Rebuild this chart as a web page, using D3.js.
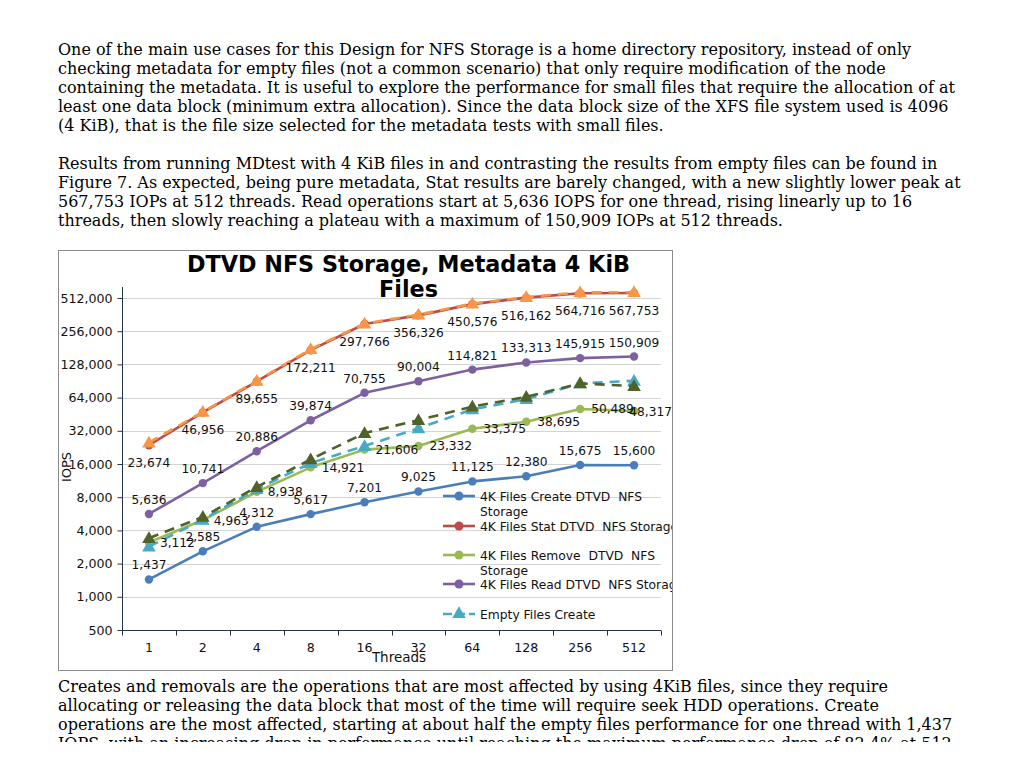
<!DOCTYPE html>
<html>
<head>
<meta charset="utf-8">
<script src="https://cdn.jsdelivr.net/npm/d3@7"></script>
<style>
  html, body { margin: 0; padding: 0; background: #fff; }
  body { width: 1024px; height: 768px; position: relative; overflow: hidden; }
  .txt { position: absolute; left: 58px; font-family: "DejaVu Serif", serif; font-size: 16px; line-height: 19px; color: #000; white-space: nowrap; }
  #p3wrap { position: absolute; left: 0; top: 676px; width: 1024px; height: 66px; overflow: hidden; }
  #chart { position: absolute; left: 0; top: 0; }
</style>
</head>
<body>
<div class="txt" style="top:40px">One of the main use cases for this Design for NFS Storage is a home directory repository, instead of only<br>checking metadata for empty files (not a common scenario) that only require modification of the node<br>containing the metadata. It is useful to explore the performance for small files that require the allocation of at<br>least one data block (minimum extra allocation). Since the data block size of the XFS file system used is 4096<br>(4 KiB), that is the file size selected for the metadata tests with small files.</div>
<div class="txt" style="top:154px">Results from running MDtest with 4 KiB files in and contrasting the results from empty files can be found in<br>Figure 7. As expected, being pure metadata, Stat results are barely changed, with a new slightly lower peak at<br>567,753 IOPs at 512 threads. Read operations start at 5,636 IOPS for one thread, rising linearly up to 16<br>threads, then slowly reaching a plateau with a maximum of 150,909 IOPs at 512 threads.</div>
<div id="p3wrap"><div class="txt" style="top:1px">Creates and removals are the operations that are most affected by using 4KiB files, since they require<br>allocating or releasing the data block that most of the time will require seek HDD operations. Create<br>operations are the most affected, starting at about half the empty files performance for one thread with 1,437<br>IOPS, with an increasing drop in performance until reaching the maximum performance drop of 82.4% at 512</div></div>
<svg id="chart" width="1024" height="768"></svg>
<script>
const categories = ["1","2","4","8","16","32","64","128","256","512"];
const yTicks = [500,1000,2000,4000,8000,16000,32000,64000,128000,256000,512000];

const createData = [1437,2585,4312,5617,7201,9025,11125,12380,15675,15600];
const statData   = [23674,46956,89655,172211,297766,356326,450576,516162,564716,567753];
const removeData = [3112,4963,8938,14921,21606,23332,33375,38695,50489,48317];
const readData   = [5636,10741,20886,39874,70755,90004,114821,133313,145915,150909];
const emptyCreateData = [2850,5000,9500,16300,23300,33700,50000,62000,86000,91000];
const emptyStatData   = [25000,47500,91000,176000,300000,362000,455000,522000,575000,578000];
const emptyRemoveData = [3400,5300,9900,17600,30500,40000,53000,65000,86000,81500];

const titleLines = ["DTVD NFS Storage, Metadata 4 KiB", "Files"];
const seriesNames = ["4K Files Create DTVD  NFS\nStorage", "4K Files Stat DTVD  NFS Storage", "4K Files Remove  DTVD  NFS\nStorage", "4K Files Read DTVD  NFS Storage", "Empty Files Create"];

const svg = d3.select("#chart");
const FONT = "DejaVu Sans, sans-serif";

// chart frame
svg.append("rect").attr("x",58.5).attr("y",250.5).attr("width",614).attr("height",420)
  .attr("fill","#fff").attr("stroke","#8c8c8c").attr("stroke-width",1);

svg.append("defs").append("clipPath").attr("id","frameClip")
  .append("rect").attr("x",59).attr("y",251).attr("width",613).attr("height",419);

const root = svg.append("g").attr("clip-path","url(#frameClip)");

const x = d3.scaleBand().domain(categories).range([122,661]);
const y = d3.scaleLog().base(2).domain([500,512000]).range([630,298]);
const cx = d => x(d) + x.bandwidth()/2;

// gridlines
root.append("g").selectAll("line").data(yTicks.slice(1)).join("line")
  .attr("x1",122).attr("x2",661).attr("y1",d=>Math.round(y(d))+0.5).attr("y2",d=>Math.round(y(d))+0.5)
  .attr("stroke","#d3d3d3").attr("stroke-width",1);

// y axis
const yAxis = d3.axisLeft(y).tickValues(yTicks).tickFormat(d3.format(",")).tickSize(5).tickPadding(5);
const gy = root.append("g").attr("transform","translate(122.5,0)").call(yAxis);
gy.select(".domain").remove();
gy.append("line").attr("x1",0).attr("x2",0).attr("y1",287).attr("y2",630).attr("stroke","#253346");
gy.selectAll(".tick line").attr("stroke","#253346");
gy.selectAll(".tick text").attr("font-family",FONT).attr("font-size",12.6).attr("fill","#111");

// x axis
const xAxis = d3.axisBottom(x).tickSize(0).tickPadding(13);
const gx = root.append("g").attr("transform","translate(0,630.5)").call(xAxis);
gx.select(".domain").attr("stroke","#253346").attr("d","M122,0H661");
gx.selectAll(".tick text").attr("font-family",FONT).attr("font-size",12.6).attr("fill","#111");
const bounds = categories.map(c => x(c)).concat([661]);
gx.append("g").selectAll("line").data(bounds).join("line")
  .attr("x1",d=>Math.round(d)+0.5).attr("x2",d=>Math.round(d)+0.5).attr("y1",0).attr("y2",5)
  .attr("stroke","#253346");

// axis titles
root.append("text").attr("transform","translate(71,467) rotate(-90)").attr("text-anchor","middle")
  .attr("font-family",FONT).attr("font-size",13).attr("fill","#111").text("IOPS");
root.append("text").attr("x",399).attr("y",662).attr("text-anchor","middle")
  .attr("font-family",FONT).attr("font-size",13.5).attr("fill","#111").text("Threads");

// title
root.append("g").selectAll("text").data(titleLines).join("text")
  .attr("x",408.5).attr("y",(d,i)=>272+i*25).attr("text-anchor","middle")
  .attr("font-family",FONT).attr("font-weight","bold").attr("font-size",22.3).attr("fill","#000").text(d=>d);

const line = d3.line().x((d,i)=>cx(categories[i])).y(d=>y(d));

const series = [
  {data:createData, color:"#4a7ebb", dash:null, marker:"circle", label:"above"},
  {data:statData,   color:"#be4b48", dash:null, marker:"circle", label:"below"},
  {data:removeData, color:"#98b954", dash:null, marker:"circle", label:"right"},
  {data:readData,   color:"#7d60a0", dash:null, marker:"circle", label:"above"},
  {data:emptyCreateData, color:"#46aac5", dash:"10,7", marker:"triangle", label:null},
  {data:emptyStatData,   color:"#f79646", dash:"10,7", marker:"triangle", label:null},
  {data:emptyRemoveData, color:"#4f6228", dash:"10,7", marker:"triangle", label:null}
];

const drawOrder = [0,3,2,1,4,6,5];
const tri = d3.symbol().type(d3.symbolTriangle).size(80);

drawOrder.forEach(k => {
  const s = series[k];
  const g = root.append("g");
  g.append("path").attr("d",line(s.data)).attr("fill","none").attr("stroke",s.color)
    .attr("stroke-width",2.6).attr("stroke-dasharray",s.dash).attr("stroke-linejoin","round");
  if (s.marker === "circle") {
    g.selectAll("circle").data(s.data).join("circle")
      .attr("cx",(d,i)=>cx(categories[i])).attr("cy",d=>y(d)).attr("r",4.2).attr("fill",s.color);
  } else {
    g.selectAll("path.m").data(s.data).join("path").attr("class","m")
      .attr("d",tri).attr("transform",(d,i)=>`translate(${cx(categories[i])},${y(d)+1})`).attr("fill",s.color);
  }
});

// data labels
const fmt = d3.format(",");
const labelG = root.append("g");
series.forEach(s => {
  if (!s.label) return;
  s.data.forEach((d,i) => {
    const px = cx(categories[i]), py = y(d);
    const t = labelG.append("text").attr("font-family",FONT).attr("font-size",12.2).attr("fill","#111").text(fmt(d));
    if (s.label === "above") t.attr("x",px).attr("y",py-10).attr("text-anchor","middle");
    else if (s.label === "below") t.attr("x",px).attr("y",py+22).attr("text-anchor","middle");
    else {
      t.attr("x",px+11).attr("y",py+4.5).attr("text-anchor","start");
      const w = t.node().getComputedTextLength();
      if (px+11+w > 672) t.attr("x",672-w);
    }
  });
});

// legend
const legG = root.append("g");
const legY = [496, 526, 555, 584, 614];
series.slice(0,5).forEach((s,i) => {
  const ly = legY[i];
  const lines = seriesNames[i].split("\n");
  const g = legG.append("g");
  g.append("line").attr("x1",443).attr("x2",475).attr("y1",ly).attr("y2",ly).attr("stroke",s.color)
    .attr("stroke-width",2.6).attr("stroke-dasharray",s.dash ? "9,4" : null);
  if (s.marker === "circle") g.append("circle").attr("cx",459).attr("cy",ly).attr("r",4.5).attr("fill",s.color);
  else g.append("path").attr("d",tri).attr("transform",`translate(459,${ly})`).attr("fill",s.color);
  g.selectAll("text").data(lines).join("text")
    .attr("x",480).attr("y",(d,j)=>ly+4.5+j*15).attr("font-family",FONT).attr("font-size",12.3)
    .attr("fill","#111").attr("xml:space","preserve").style("white-space","pre").text(d=>d);
});
</script>
</body>
</html>
